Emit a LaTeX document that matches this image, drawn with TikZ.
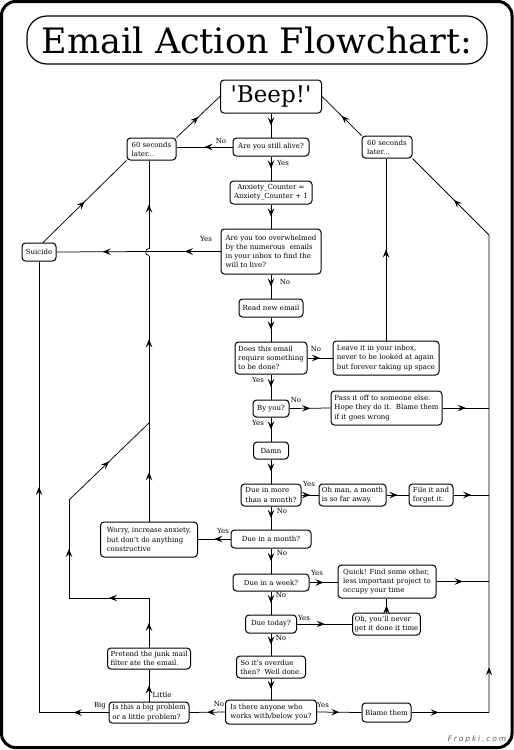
\documentclass[tikz,border=0pt]{standalone}
\usepackage{fontspec}
\setmainfont{DejaVu Serif}
\newfontfamily\markfont[LetterSpace=25]{DejaVu Sans}
\usetikzlibrary{arrows.meta,decorations.markings}

\tikzset{
  box/.style={draw, rounded corners=3.5pt, line width=1pt, inner sep=2pt, font=\fontsize{7}{9.2}\selectfont},
  conn/.style={line width=0.75pt},
  arrowat/.style={postaction={decorate,decoration={markings,mark=at position #1 with {\arrow{Stealth[length=8pt,width=6.5pt,inset=3.2pt]}}}}},
  midarrow/.style={arrowat=0.5},
  lbl/.style={font=\fontsize{7}{8}\selectfont, inner sep=0pt},
}

\begin{document}
\begin{tikzpicture}[x=1pt,y=-1pt]
		\useasboundingbox (0,0) rectangle (514,750);
		\draw[line width=3pt, rounded corners=14pt] (1.5,1.5) rectangle (512,747.5);
		\node[draw, rounded corners=20pt, line width=1.2pt, minimum width=460pt, minimum height=48pt, font=\fontsize{35}{35}\selectfont] (title) at (257,40) {Email Action Flowchart:};
		% main column
		\node[box, minimum width=101pt, minimum height=33pt, font=\fontsize{23}{23}\selectfont] (beep) at (271,96.5) {\textquotesingle Beep!\textquotesingle};
		\node[box, minimum width=76pt, minimum height=18pt] (alive) at (271,147) {Are you still alive?};
		\node[box, minimum width=82pt, minimum height=23pt, align=center] (anx) at (271,192.5) {Anxiety\_Counter =\\Anxiety\_Counter + 1};
		\node[box, minimum width=100pt, minimum height=45pt, align=left] (over) at (271,251.5) {Are you too overwhelmed\\by the numerous\ \ emails\\in your inbox to find the\\will to live?};
		\node[box, minimum width=64pt, minimum height=18pt] (read) at (271,308) {Read new email};
		\node[box, minimum width=72pt, minimum height=32pt, align=left] (does) at (271,358) {Does this email\\require something\\to be done?};
		\node[box, minimum width=36pt, minimum height=17pt] (byyou) at (271,408.5) {By you?};
		\node[box, minimum width=35pt, minimum height=17pt] (damn) at (271,450.5) {Damn};
		\node[box, minimum width=60pt, minimum height=22pt, align=left] (more) at (271,495) {Due in more\\than a month?};
		\node[box, minimum width=80pt, minimum height=18pt] (month) at (271,539) {Due in a month?};
		\node[box, minimum width=76pt, minimum height=17pt] (week) at (271,582.5) {Due in a week?};
		\node[box, minimum width=51pt, minimum height=18pt] (today) at (271,624) {Due today?};
		\node[box, minimum width=69pt, minimum height=22pt, align=left] (overdue) at (271,667) {So it's overdue\\then?\ \ Well done.};
		\node[box, minimum width=91pt, minimum height=24pt, align=left] (anyone) at (271,712) {Is there anyone who\\works with/below you?};
		% right side
		\node[box, minimum width=50pt, minimum height=22pt, align=left] (sixtyR) at (387,147) {60 seconds\\later...};
		\node[box, minimum width=106pt, minimum height=34pt, align=left] (leave) at (386,358) {Leave it in your inbox,\\never to be looked at again\\but forever taking up space};
		\node[box, minimum width=111pt, minimum height=34pt, align=left] (pass) at (386.5,408) {Pass it off to someone else.\\Hope they do it.\ \ Blame them\\if it goes wrong};
		\node[box, minimum width=67pt, minimum height=22pt, align=left] (ohman) at (352.5,495) {Oh man, a month\\is so far away.};
		\node[box, minimum width=44pt, minimum height=22pt, align=left] (file) at (431,495) {File it and\\forget it.};
		\node[box, minimum width=98pt, minimum height=33pt, align=left] (quick) at (387,581.5) {Quick! Find some other,\\less important project to\\occupy your time};
		\node[box, minimum width=67pt, minimum height=22pt, align=left] (never) at (386.5,624) {Oh, you'll never\\get it done it time};
		\node[box, minimum width=49pt, minimum height=19pt] (blame) at (386.5,712.5) {Blame them};
		% left side
		\node[box, minimum width=49pt, minimum height=22pt, align=left] (sixtyL) at (151.5,149) {60 seconds\\later...};
		\node[box, minimum width=34pt, minimum height=18pt] (suicide) at (39,252) {Suicide};
		\node[box, minimum width=97pt, minimum height=35pt, align=left] (worry) at (149,539.5) {Worry, increase anxiety,\\but don't do anything\\constructive};
		\node[box, minimum width=83pt, minimum height=21pt, align=left] (junk) at (149,658.5) {Pretend the junk mail\\filter ate the email.};
		\node[box, minimum width=80pt, minimum height=21pt, align=left] (bigq) at (149,712.5) {Is this a big problem\\or a little problem?};
		\node[font=\markfont\itshape\fontsize{7.5}{8}\selectfont, text=black!65] (mark) at (477,739) {Fropki.com};
		% bends
		\coordinate (rtop) at (489,235);
		\coordinate (rbot) at (489,712.5);
		\coordinate (wj) at (149,423);
		\coordinate (hopb) at (149,255.5);
		\coordinate (hopt) at (149,248.5);
		\coordinate (jk1) at (149,598);
		\coordinate (jk2) at (69,598);
		\coordinate (jk3) at (69,500);
		\coordinate (bg) at (39,712.5);
		% down the middle
		\draw[conn, midarrow] (beep) -- (alive);
		\draw[conn, midarrow] (alive) -- (anx);
		\draw[conn, midarrow] (anx) -- (over);
		\draw[conn, midarrow] (over) -- (read);
		\draw[conn, midarrow] (read) -- (does);
		\draw[conn, midarrow] (does) -- (byyou);
		\draw[conn, midarrow] (byyou) -- (damn);
		\draw[conn, midarrow] (damn) -- (more);
		\draw[conn, midarrow] (more) -- (month);
		\draw[conn, midarrow] (month) -- (week);
		\draw[conn, midarrow] (week) -- (today);
		\draw[conn, midarrow] (today) -- (overdue);
		\draw[conn, midarrow] (overdue) -- (anyone);
		% loops back to the beep
		\draw[conn, midarrow] (alive.west) -- (alive.west -| sixtyL.east);
		\draw[conn, midarrow] (sixtyL.north east) -- (beep.west);
		\draw[conn, midarrow] (sixtyR.north west) -- (beep.east);
		\draw[conn, midarrow] (over.west) -- (over.west -| wj);
		\draw[conn, midarrow] (over.west -| wj) -- (suicide.east);
		\draw[conn, midarrow] ([xshift=4pt]suicide.north) -- (sixtyL.south west);
		\draw[conn, midarrow] (does.east) -- (leave.west);
		\draw[conn, midarrow] (leave.north) -- (leave.north |- sixtyR.south);
		\draw[conn, midarrow] (byyou.east) -- (pass.west);
		\draw[conn, midarrow] (pass.east) -- (pass.east -| rtop);
		\draw[conn, midarrow] (more.east) -- (ohman.west);
		\draw[conn, midarrow] (ohman.east) -- (file.west);
		\draw[conn, midarrow] (file.east) -- (file.east -| rtop);
		\draw[conn, midarrow] (week.east) -- (quick.west |- week.east);
		\draw[conn, midarrow] (quick.east) -- (quick.east -| rtop);
		\draw[conn, midarrow] (today.east) -- (never.west);
		\draw[conn, midarrow] (never.north) -- (never.north |- quick.south);
		\draw[conn, midarrow] (anyone.east) -- (blame.west);
		\draw[conn, arrowat=0.35] (blame.east) -- (rbot);
		\draw[conn, arrowat=0.077, arrowat=0.9] (rbot) -- (rtop) -- (sixtyR.south east);
		\draw[conn, midarrow] (month.west) -- (worry.east |- month.west);
		\draw[conn, midarrow] (worry.north) -- (wj);
		\draw[conn, midarrow] (wj) -- (hopb);
		\draw[conn] (hopb) .. controls (144.5,255.5) and (144.5,248.5) .. (hopt);
		\draw[conn, midarrow] (hopt) -- (hopt |- sixtyL.south);
		\draw[conn, midarrow] (anyone.west) -- (bigq.east);
		\draw[conn, midarrow] (bigq.north) -- (junk.south);
		\draw[conn, midarrow] (junk.north) -- (jk1);
		\draw[conn, midarrow] (jk1) -- (jk2);
		\draw[conn, midarrow] (jk2) -- (jk3);
		\draw[conn, midarrow] (jk3) -- (wj);
		\draw[conn, midarrow] (bigq.west) -- (bg);
		\draw[conn, midarrow] (bg) -- (suicide.south);
		% answers
		\node[lbl] (noalive) at (221,141) {No};
		\node[lbl] (yesalive) at (283,163) {Yes};
		\node[lbl] (yesover) at (206,239) {Yes};
		\node[lbl] (noover) at (285,282) {No};
		\node[lbl] (nodoes) at (316,349) {No};
		\node[lbl] (yesdoes) at (258,380) {Yes};
		\node[lbl] (nobyyou) at (296,400) {No};
		\node[lbl] (yesbyyou) at (258,423) {Yes};
		\node[lbl] (yesmore) at (309,484) {Yes};
		\node[lbl] (nomore) at (282,511) {No};
		\node[lbl] (yesmonth) at (223,531) {Yes};
		\node[lbl] (nomonth) at (282,553) {No};
		\node[lbl] (yesweek) at (317,573) {Yes};
		\node[lbl] (noweek) at (281,595) {No};
		\node[lbl] (yestoday) at (304,618) {Yes};
		\node[lbl] (notoday) at (281,638) {No};
		\node[lbl] (noanyone) at (219,704) {No};
		\node[lbl] (yesanyone) at (323,705) {Yes};
		\node[lbl] (little) at (162,695) {Little};
		\node[lbl] (big) at (100,706) {Big};
	\end{tikzpicture}
\end{document}
